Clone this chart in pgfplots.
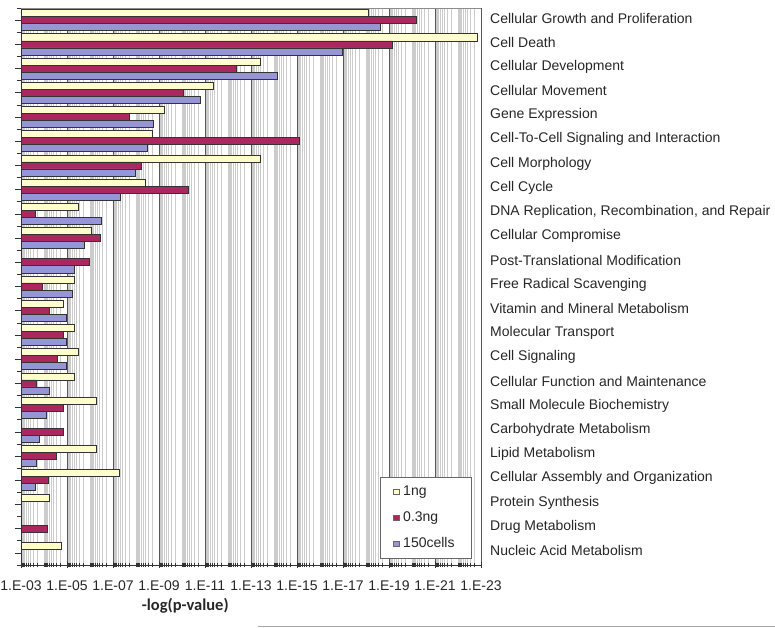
\documentclass[border=0pt]{standalone}
\usepackage{pgfplots}
\usepackage{pgfplotstable}
\pgfplotsset{compat=1.18}
\usepackage{fontspec}
\setmainfont{Liberation Sans}
\newfontfamily\calibri{Carlito}
\definecolor{cyel}{RGB}{255,255,204}
\definecolor{cmar}{RGB}{170,40,95}
\definecolor{clav}{RGB}{150,150,215}
\def\minorlist{3}
\foreach \n in {3,...,22}{%
  \foreach \f in {0.0458,0.0969,0.1549,0.2218,0.3010,0.3979,0.5229,0.6990}{%
    \pgfmathsetmacro\v{\n+\f}%
    \xdef\minorlist{\minorlist,\v}%
  }%
}
\pgfplotsset{sqlegend/.style={legend image code/.code={\draw[##1, draw=black!60, line width=0.5bp] (0bp,-2.5bp) rectangle (5.5bp,3bp);}}}
\pgfplotstableread{
cat val
1 18.10
2 22.84
3 13.42
4 11.36
5 9.25
6 8.71
7 13.42
8 8.39
9 5.51
10 6.07
12 5.30
13 4.84
14 5.30
15 5.51
16 5.30
17 6.28
19 6.27
20 7.26
21 4.25
23 4.77
}\dataA
\pgfplotstableread{
cat val
1 20.20
2 19.16
3 12.35
4 10.07
5 7.71
6 15.12
7 8.23
8 10.27
9 3.64
10 6.45
11 5.96
12 3.93
13 4.25
14 4.86
15 4.57
16 3.67
17 4.86
18 4.86
19 4.53
20 4.17
22 4.14
}\dataB
\pgfplotstableread{
cat val
1 18.64
2 16.97
3 14.13
4 10.81
5 8.77
6 8.51
7 7.99
8 7.33
9 6.51
10 5.75
11 5.33
12 5.23
13 4.99
14 4.99
15 4.99
16 4.25
17 4.09
18 3.81
19 3.67
20 3.64
}\dataC
\begin{document}
\begin{tikzpicture}
\begin{axis}[
  at={(0bp,0bp)}, anchor=south west,
  scale only axis, width=460bp, height=557bp,
  xmin=3, xmax=23, ymin=0.5, ymax=23.5, y dir=reverse,
  axis x line*=bottom, axis y line*=left,
  axis line style={black!80, line width=0.8bp},
  xtick={3,5,...,23},
  xticklabels={1.E-03,1.E-05,1.E-07,1.E-09,1.E-11,1.E-13,1.E-15,1.E-17,1.E-19,1.E-21,1.E-23},
  minor xtick/.expanded={\minorlist},
  extra x ticks={4,6,...,22}, extra x tick labels={},
  extra x tick style={major grid style={black!20, line width=0.5bp}, major tick length=4bp},
  xmajorgrids, xminorgrids,
  major grid style={black!65, line width=0.8bp},
  minor grid style={black!20, line width=0.5bp},
  x tick style={black!80, line width=0.6bp},
  xtick align=center, major tick length=6bp, minor tick length=4bp,
  xticklabel style={font=\fontsize{14bp}{16bp}\selectfont, text=black!85, yshift=-9bp},
  ytick={1,...,23},
  minor ytick={0.5,1.5,...,23.5},
  y tick style={black!80, line width=0.6bp},
  ytick align=outside,
  yticklabels={Cellular Growth and Proliferation, Cell Death, Cellular Development, Cellular Movement, Gene Expression, Cell-To-Cell Signaling and Interaction, Cell Morphology, Cell Cycle, {DNA Replication, Recombination, and Repair}, Cellular Compromise, Post-Translational Modification, Free Radical Scavenging, Vitamin and Mineral Metabolism, Molecular Transport, Cell Signaling, Cellular Function and Maintenance, Small Molecule Biochemistry, Carbohydrate Metabolism, Lipid Metabolism, Cellular Assembly and Organization, Protein Synthesis, Drug Metabolism, Nucleic Acid Metabolism},
  yticklabel style={anchor=west, inner sep=0pt, xshift=475bp, yshift=2bp, font=\fontsize{14bp}{16bp}\selectfont, text=black!85},
  xlabel={\calibri\bfseries -log(p-value)},
  xlabel style={at={(axis description cs:0.357,0)}, anchor=center, yshift=-41bp, font=\fontsize{16.5bp}{19bp}\selectfont, text=black!85},
  bar width=0.29,
  legend style={at={(0.98,0.011)}, anchor=south east, draw=black!60, fill=white,
    font=\fontsize{14bp}{16bp}\selectfont, text=black!85, row sep=5bp, inner xsep=13bp, inner ysep=4bp,
    nodes={text height=10bp, text depth=3bp, inner xsep=4bp, inner ysep=4bp}},
  legend cell align=left,
]
\draw[black!45, line width=0.6bp] (axis description cs:0,1) -- (axis description cs:1,1);
\addplot[xbar, bar shift=-0.29, fill=cyel, draw=black!80, line width=0.6bp, sqlegend] table[x=val, y=cat] {\dataA};
\addplot[xbar, bar shift=0, fill=cmar, draw=black!80, line width=0.6bp, sqlegend] table[x=val, y=cat] {\dataB};
\addplot[xbar, bar shift=0.29, fill=clav, draw=black!80, line width=0.6bp, sqlegend] table[x=val, y=cat] {\dataC};
\legend{1ng,0.3ng,150cells}
\end{axis}
\draw[black!35, line width=0.8bp] (237bp,-61bp) -- (754bp,-61bp);
\pgfresetboundingbox
\path[use as bounding box] (-21bp,-63bp) rectangle (754bp,565bp);
\end{tikzpicture}
\end{document}
